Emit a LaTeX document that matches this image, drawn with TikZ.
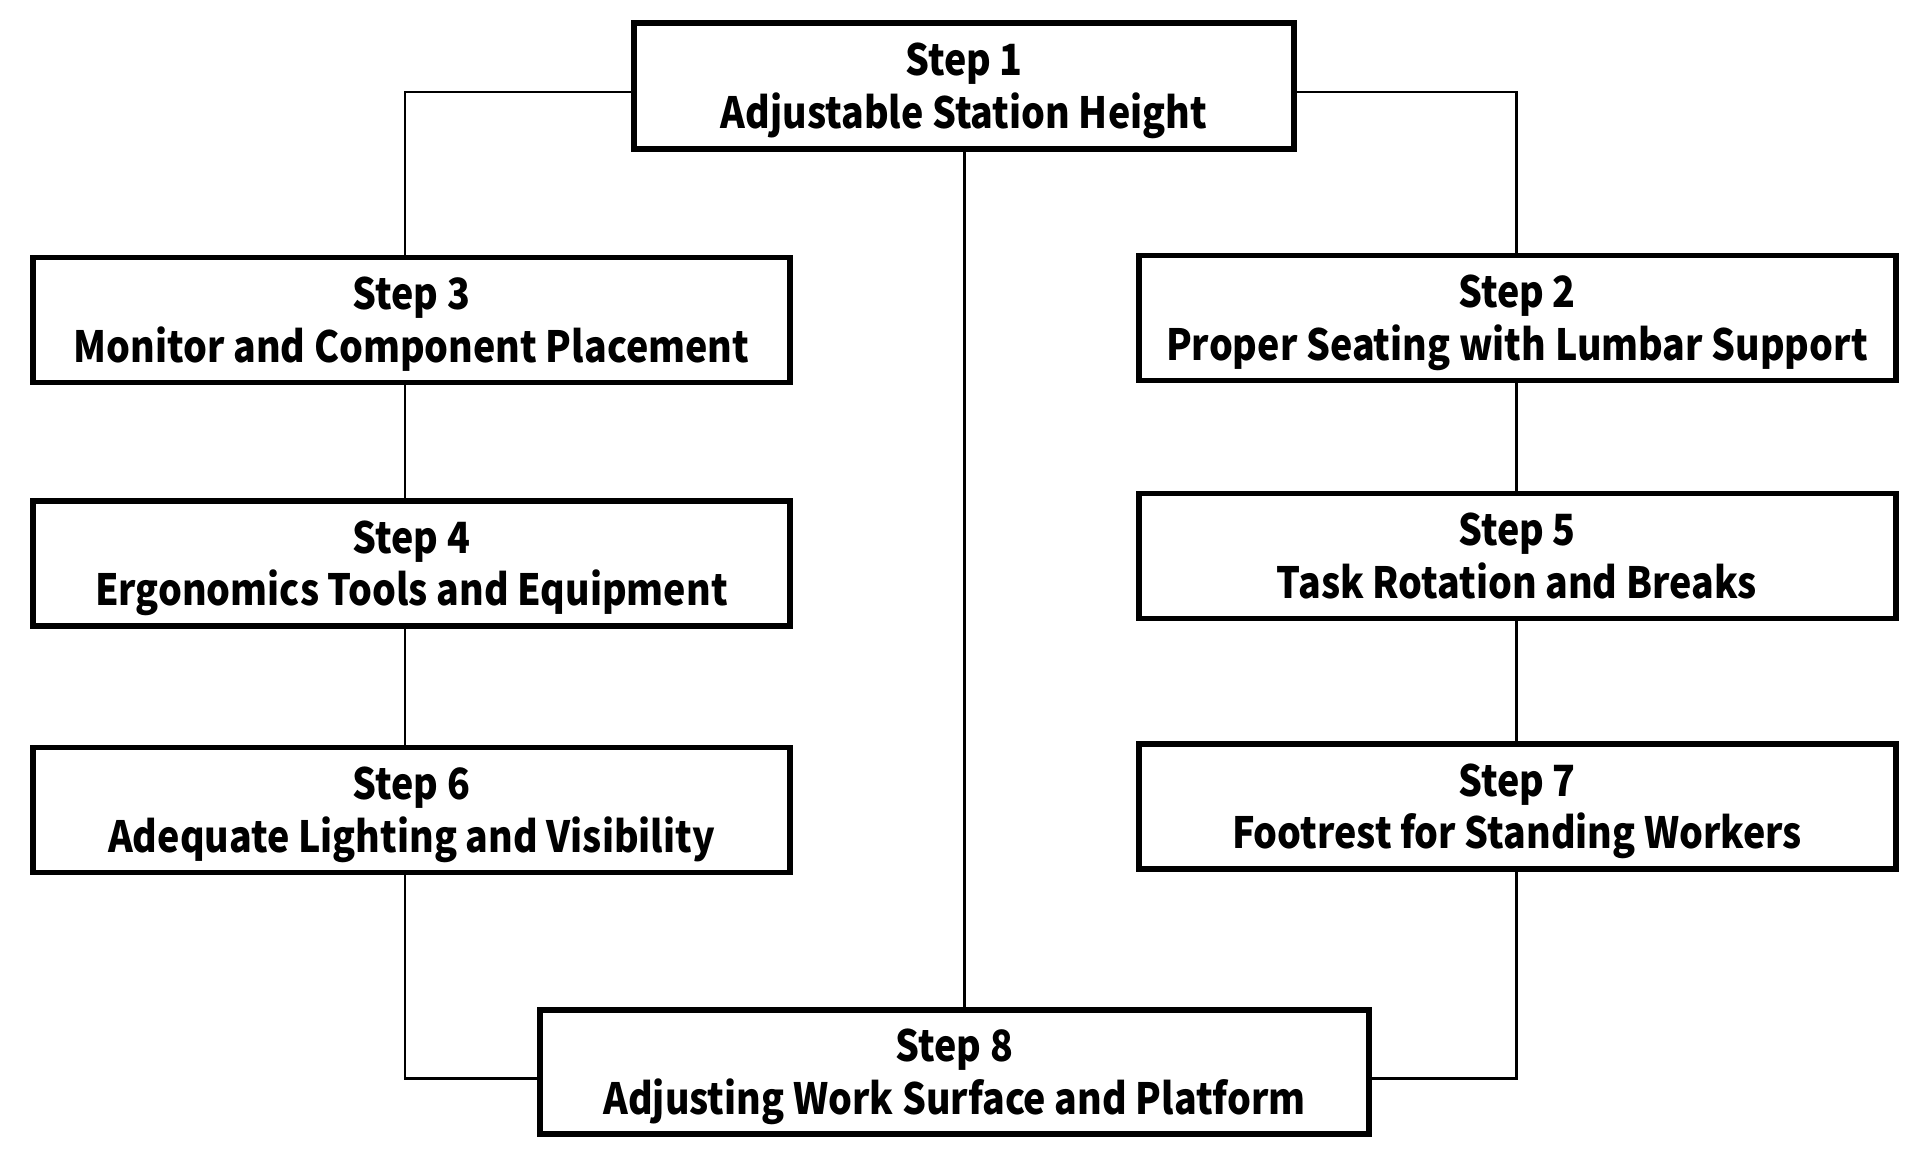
\documentclass[tikz,border=0pt]{standalone}
\usepackage{fontspec}
\setmainfont{Noto Sans CJK KR}[FakeStretch=0.873]
\newcommand{\steplabel}[2]{\rule{0pt}{24pt}Step #1\\#2\vphantom{gjp}}
\begin{document}
\begin{tikzpicture}[x=0.02cm,y=-0.02cm,
  stepbox/.style={draw=black,line width=3.4pt,fill=white,align=center,inner sep=0pt,
    font=\bfseries\fontsize{24.5}{29.8}\selectfont},
  wide/.style={minimum width=757*0.02cm,minimum height=125*0.02cm},
  link/.style={draw=black,line width=1.7pt}]
\useasboundingbox (0,0) rectangle (1920,1153);
\node[stepbox,minimum width=660*0.02cm,minimum height=126*0.02cm] (b1) at (964,86) {\steplabel{1}{Adjustable Station Height}};
\node[stepbox,wide] (b3) at (411.5,320) {\steplabel{3}{Monitor and Component Placement}};
\node[stepbox,wide] (b2) at (1517,318) {\steplabel{2}{Proper Seating with Lumbar Support}};
\node[stepbox,wide] (b4) at (411.5,563.5) {\steplabel{4}{Ergonomics Tools and Equipment}};
\node[stepbox,wide] (b5) at (1517,556) {\steplabel{5}{Task Rotation and Breaks}};
\node[stepbox,wide] (b6) at (411.5,810) {\steplabel{6}{Adequate Lighting and Visibility}};
\node[stepbox,wide] (b7) at (1517,806.5) {\steplabel{7}{Footrest for Standing Workers}};
\node[stepbox,minimum width=829*0.02cm,minimum height=124*0.02cm] (b8) at (954.5,1072) {\steplabel{8}{Adjusting Work Surface and Platform}};
\coordinate (tl) at (405,92);
\coordinate (tr) at (1516,92);
\coordinate (bl) at (405,1078);
\coordinate (br) at (1516,1078);
\coordinate (mid) at (964,600);
\draw[link] (b1.west |- tl) -- (tl) -- (tl |- b3.north);
\draw[link] (b1.east |- tr) -- (tr) -- (tr |- b2.north);
\draw[link] (b3.south -| tl) -- (b4.north -| tl);
\draw[link] (b4.south -| tl) -- (b6.north -| tl);
\draw[link] (b6.south -| bl) -- (bl) -- (b8.west |- bl);
\draw[link] (b2.south -| tr) -- (b5.north -| tr);
\draw[link] (b5.south -| tr) -- (b7.north -| tr);
\draw[link] (b7.south -| br) -- (br) -- (b8.east |- br);
\draw[link] (b1.south -| mid) -- (b8.north -| mid);
\end{tikzpicture}
\end{document}
